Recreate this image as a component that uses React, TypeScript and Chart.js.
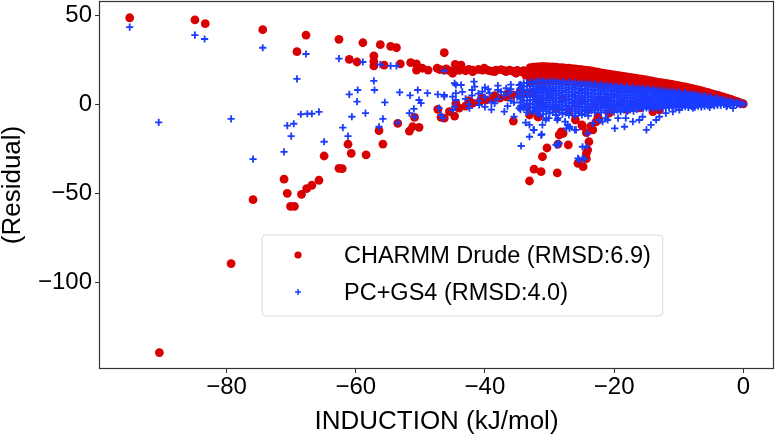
import React, { useEffect, useRef } from "react";
import { Chart, registerables } from "chart.js";

Chart.register(...registerables);

// ---------- DATA ----------
const xTicks = [-80, -60, -40, -20, 0];
const yTicks = [-100, -50, 0, 50];
const xRange = [-99.75, 4.75];
const yRange = [-148.4, 57.9];

const drudeLabel = "CHARMM Drude (RMSD:6.9)";
const gs4Label = "PC+GS4 (RMSD:4.0)";

// CHARMM Drude: isolated points
const drudeOutliers: [number, number][] = [
  [-95, 48.5], [-84.9, 47.3], [-83.3, 45.2], [-74.4, 41.8], [-67.7, 38.8], [-69.1, 29.5], [-62.6, 36.4],
  [-64.9, -29], [-62.6, -35.9], [-71.1, -42], [-65.7, -42.6], [-66.8, -45.4], [-67.6, -47.3], [-68.4, -50.5],
  [-70.6, -49.9], [-75.9, -53.5], [-70.1, -57.2], [-69.5, -57.2], [-79.3, -89.3], [-90.4, -139.2],
];
// CHARMM Drude: upper row (-62 .. -33)
const drudeUpper: [number, number][] = [
  [-58.9, 34.5], [-56.2, 33.4], [-54.6, 32.5], [-53.7, 31.7], [-46.3, 28.9], [-61, 25.2], [-59.8, 23.7],
  [-57.2, 27.1], [-57.2, 23.9], [-57.2, 21.5], [-55.6, 22], [-53.1, 22.6], [-51.5, 23.3], [-50.6, 22.6],
  [-50.6, 19.2], [-49.7, 20.2], [-48.8, 19.2], [-47.4, 20.2], [-46.3, 19.2], [-45, 18.5], [-44.6, 22.4],
  [-43.7, 22], [-41.9, 19.2], [-40.1, 20.2], [-38.3, 19.2], [-36.2, 19.2], [-34.4, 18.3], [-33.1, 16.4],
  [-45, 17.4], [-41.9, 18.3], [-40.4, 19.2], [-38.5, 18.3], [-36.7, 18.3], [-35.2, 17.4], [-33.7, 16.4],
  [-47, 19.5], [-46, 19.8], [-45.5, 18.9], [-44, 19], [-43, 18.8], [-42.5, 19.6], [-41, 19.5], [-39.5, 19],
  [-39, 18.6], [-37.5, 19.4], [-37, 18.8], [-35.7, 18.6], [-35, 19], [-34, 18.8],
];
// CHARMM Drude: scattered negatives
const drudeLower: [number, number][] = [
  [-56.4, -14.8], [-55.8, -22.3], [-61.2, -22.4], [-60.7, -27.5], [-58.4, -28.4], [-62.1, -36.1],
  [-51.7, -15], [-50.2, -12.9], [-51.2, -12.6], [-53.5, -10.7], [-50.9, -7.3], [-47.3, -2.8], [-46.8, -7.3],
  [-46.3, -7.8], [-44.7, -6.6], [-35.6, -9.4], [-33.1, -43], [-32.4, -36.4], [-31.3, -37.8], [-31.1, -29.4],
  [-30.4, -24.5], [-28.8, -38.5], [-28.7, -22.3], [-28.5, -17.2], [-28.2, -15.5], [-27.1, -22.8],
  [-25.6, -33.1], [-31.7, -7], [-24.8, -35], [-24.3, -30.5], [-24.1, -25.6], [-23.9, -21], [-24.3, -15.9],
  [-24.9, -12.2], [-23.6, -12.2], [-23.3, -14.4], [-22.8, -9.8], [-22.4, -8.8], [-27.9, -16.3],
  [-24.3, -27.5], [-26, -8.8], [-25, -11.6], [-22.5, -7], [-33.1, -6], [-31.8, -7], [-33.5, -1.3],
  [-31.6, 1.5], [-22.3, 2.4], [-21.3, -0.4], [-20.8, -5], [-14, -4.1], [-13, -3.2],
];
// CHARMM Drude: rising lower diagonal (-46 .. -31)
const drudeDiagonal: [number, number][] = [
  [-45.5, -4.1], [-44, -2.2], [-43, -1], [-41.9, 0.6], [-40.8, 1.5], [-39.8, 2.4], [-38.7, 3], [-37.7, 3.4],
  [-36.7, 4.2], [-35.7, 5.2], [-34.7, 5.8], [-33.7, 6.2], [-32.6, 7], [-31.6, 8], [-44.5, 0.5], [-42.5, 2],
  [-40.5, 3.5], [-38.5, 4.8], [-36.5, 6], [-34.5, 7.5],
];
// CHARMM Drude: dense wedge, columns of [x, ys]
const drudeBand: [number, number[]][] = [
  [-33, [20.5, 18, 15.5, 13]], [-32.5, [20.8, 18.3, 15.8, 13.3]],
  [-32, [21, 18.5, 16, 13.5]], [-31.5, [21.1, 18.6, 16.1, 13.6]],
  [-31, [21.2, 18.7, 16.2, 13.5, 10]], [-30.5, [21.1, 18.6, 16.1, 13.5]],
  [-30, [21, 18.5, 16, 13.5]], [-29.5, [20.9, 18.4, 15.9, 13.4]],
  [-29, [20.8, 18.3, 15.8, 13.3]], [-28.5, [20.6, 18.1, 15.6, 13.1]],
  [-28, [20.5, 18, 15.5, 13]], [-27.5, [20.3, 17.9, 15.4, 12.9]],
  [-27, [20.2, 17.7, 15.2, 12.8]], [-26.5, [20, 17.5, 15, 12.6]],
  [-26, [19.8, 17.3, 14.8, 12.5]], [-25.5, [19.6, 17.2, 14.7, 12.3]],
  [-25, [19.4, 17, 14.6, 12.2]], [-24.5, [19.2, 16.8, 14.4, 12.1]],
  [-24, [19, 16.6, 14.2, 12]], [-23.5, [18.7, 16.3, 14, 11.7]],
  [-23, [18.3, 16, 13.7, 11.5]], [-22.5, [18, 15.7, 13.4, 11.2]],
  [-22, [17.6, 15.4, 13.2, 11]], [-21.5, [17.3, 15.1, 13, 10.9]],
  [-21, [17, 14.9, 12.8, 10.8]], [-20.5, [16.8, 14.7, 12.6, 10.6]],
  [-20, [16.5, 14.5, 12.5, 10.5]], [-19.5, [16.2, 14.2, 12.3, 10.3]],
  [-19, [15.9, 14, 12.1, 10.2]], [-18.5, [15.6, 13.8, 11.9, 10.1]],
  [-18, [15.4, 13.6, 11.8, 10]], [-17.5, [15.1, 13.3, 11.5, 9.8]],
  [-17, [14.8, 13, 11.3, 9.6]], [-16.5, [14.5, 12.8, 11.1, 9.4]],
  [-16, [14.2, 12.5, 10.9, 9.3]], [-15.5, [13.9, 12.2, 10.7, 9.1]],
  [-15, [13.6, 12, 10.5, 9]], [-14.5, [13.3, 11.7, 10.2, 8.8]],
  [-14, [13, 11.5, 10, 8.6]], [-13.5, [12.6, 11.2, 9.7, 8.4]],
  [-13, [12.3, 10.9, 9.5, 8.2]], [-12.5, [12, 10.6, 9.3, 8]],
  [-12, [11.7, 10.4, 9.1, 7.8]], [-11.5, [11.4, 10.1, 8.9, 7.6]],
  [-11, [11.1, 9.9, 8.7, 7.5]], [-10.5, [10.7, 9.6, 8.4, 7.3]],
  [-10, [10.4, 9.3, 8.2, 7.1]], [-9.5, [10, 9, 7.9, 6.9]],
  [-9, [9.7, 8.7, 7.7, 6.7]], [-8.5, [9.3, 8.3, 7.4, 6.4]],
  [-8, [8.9, 8, 7.1, 6.2]], [-7.5, [8.5, 7.6, 6.8, 5.9]],
  [-7, [8, 7.2, 6.4, 5.6]], [-6.5, [7.6, 6.8, 6, 5.3]],
  [-6, [7.1, 6.4, 5.7, 5]], [-5.5, [6.6, 5.9, 5.2]],
  [-5, [6.1, 5.5, 4.9]], [-4.5, [5.6, 5, 4.5]],
  [-4, [5.1, 4.6, 4.1]], [-3.5, [4.6, 4.1, 3.6]],
  [-3, [4, 3.6, 3.2]], [-2.5, [3.5, 3.1, 2.7]],
  [-2, [2.9, 2.6, 2.3]], [-1.6, [2.3, 2]],
  [-1.2, [1.8, 1.6]], [-0.8, [1.3, 1.1]],
  [-0.5, [0.8]], [-0.2, [0.5]], [0, [0.2]],
];
// CHARMM Drude: points under the PC+GS4 band
const drudeUnder: [number, number][] = [
  [-30, 5], [-28, 3], [-26, 0], [-29, -2], [-27, -4], [-25, 2], [-23, 0], [-21, 3], [-19, 1], [-17, 0],
  [-15, 2], [-12, 1], [-9, 1], [-6, 1], [-32, 3], [-31, -1], [-24, -3], [-20, -2], [-18, -3], [-16, -2],
];

// PC+GS4: isolated points
const gs4Outliers: [number, number][] = [
  [-95, 43.2], [-84.9, 38.8], [-83.4, 36.6], [-74.4, 31.7], [-67.7, 28.2], [-69.1, 14.2], [-62.6, 25.6],
  [-90.5, -10.1], [-79.3, -8.2], [-75.9, -30.8], [-71.1, -26.7], [-70.6, -12], [-69.6, -10.9], [-70, -17.9],
  [-68.5, -5.6], [-67.5, -5.3], [-66.8, -5.3], [-65.7, -4.3], [-64.9, -21],
];
// PC+GS4: scattered middle (-62 .. -33)
const gs4Middle: [number, number][] = [
  [-58.9, 23.7], [-56.2, 22.3], [-54.6, 21.5], [-53.7, 21.5], [-46.3, 18.7], [-57.2, 13.1], [-57.1, 8],
  [-59.7, 8], [-61, 5.6], [-59.8, 1.5], [-60.6, -7], [-58.5, -5], [-55.8, -8.2], [-56.4, -12.6], [-62, -13.1],
  [-61.2, -17.8], [-55.5, 1.1], [-53.2, 6.7], [-51.6, 5], [-50.4, 8], [-48.9, 6.2], [-50.2, 2.4], [-49.9, 0.6],
  [-51, -2.6], [-51.7, -5], [-50.9, -7], [-53.5, -10.3], [-47.3, 5.6], [-46.3, 4.3], [-47.1, -2.2], [-46.8, -6],
  [-45, 4.3], [-44.5, 2.4], [-44.7, -1.3], [-44.5, 10.8], [-43.7, 10.8], [-41.7, 12.7], [-44.7, 11.8],
  [-41.6, 9.9], [-46.3, 5.2], [-44.5, 6.2], [-40.4, 7.1], [-39.3, 6.2], [-38, 8], [-36.7, 9], [-34.7, 10.8],
  [-36.2, 6.2], [-46.5, -7.8], [-45, -3.2], [-42.4, -2.2], [-40.9, -0.4], [-37, -4.1], [-35.5, -6.9],
  [-34.7, -2.2], [-33.7, -1.3], [-43, 3], [-42, 5], [-41, 2], [-40, 4], [-39, 1], [-38, 3], [-37, 5],
  [-36, 2], [-35, 4], [-42, 8], [-40, 9.5], [-38, 10.5], [-36, 11],
  [-43.5, 7], [-41, 6], [-39.5, 8.5], [-37.5, 7], [-36, 8.5], [-35, 7], [-42.5, 0], [-40, -1.5],
  [-38.5, 0.5], [-36.5, -1], [-35.5, 1], [-39, -3],
];
// PC+GS4: lower tail (-35 .. 0)
const gs4Lower: [number, number][] = [
  [-32.2, -3.2], [-30.6, -8.8], [-30.1, -7.8], [-28.8, -8.8], [-31.1, -11.6], [-33.1, -11.6], [-32.4, -14.4],
  [-33.1, -18.2], [-31.3, -17.3], [-34.4, -23.4], [-29, -22.8], [-27.4, -13.5], [-27.2, -11.6],
  [-25.6, -30.3], [-24.9, -30.3], [-24.3, -23.8], [-24.1, -16.3], [-23.3, -10.7], [-22.3, -8.8],
  [-21.3, -7.8], [-33.7, -10.3], [-32.5, -14.4], [-31.2, -16.8], [-28.8, -22.8], [-30.5, -7.8],
  [-28.7, -7.8], [-26.9, -12.6], [-25.9, -14.4], [-27.6, -9.7], [-26.9, -13.5], [-26.1, -14.4],
  [-24.9, -23.8], [-25.4, -31.2], [-24.6, -30.8], [-28.5, -21.9], [-21.8, -9.7], [-21, -8.8],
  [-19.9, -13.5], [-19.4, -7.8], [-18.4, -12.6], [-18.2, -7.8], [-17.1, -9.7], [-16.1, -8.8], [-15.6, -7],
  [-15, -14.4], [-14.3, -11.6], [-13.5, -8.8], [-13, -7], [-12, -5], [-10.9, -4.1], [-9.9, -3.2],
  [-7.8, -2.2], [-5.2, -1.7], [-2.6, -1.3], [-1.6, -2.2],
];
// PC+GS4: dense band, columns of [x, ys]
const gs4Band: [number, number[]][] = [
  [-34.5, [11, 9, 7, 5, 3, 1, -1, -3]],
  [-34, [12, 10, 8, 6, 4, 2, 0, -2]],
  [-33.5, [12, 10, 8, 6, 4, 2, 0, -2, -4.5]],
  [-33, [12.5, 10.5, 8.5, 6.5, 4.5, 2.5, 0.5, -1.5, -4]],
  [-32.5, [12.5, 10, 8, 6, 4, 2, 0, -2, -4]],
  [-32, [13, 11, 9, 7, 5, 3, 1, -1, -3, -5]],
  [-31.5, [12.8, 10, 8, 6, 4, 2, 0, -2, -4, -6]],
  [-31, [13.2, 11, 9, 7, 5, 3, 1, -1, -3, -5.5]],
  [-30.5, [12.5, 10, 8, 6, 4, 2, 0, -2, -4]],
  [-30, [13, 11, 9, 7, 5, 3, 1, -1, -3, -5]],
  [-29.5, [12.5, 10, 8, 6, 4, 2, 0, -2, -4.5]],
  [-29, [13, 11, 9, 7, 5, 3, 1, -1, -3, -6]],
  [-28.5, [12.2, 9.8, 7.8, 5.8, 3.8, 1.8, -0.2, -2.2, -4.5]],
  [-28, [12.8, 10.8, 8.8, 6.8, 4.8, 2.8, 0.8, -1.2, -3.2, -5.5]],
  [-27.5, [12, 9.5, 7.5, 5.5, 3.5, 1.5, -0.5, -2.5, -4.8]],
  [-27, [12.5, 10.5, 8.5, 6.5, 4.5, 2.5, 0.5, -1.5, -3.5, -6]],
  [-26.5, [11.7, 9.2, 7.2, 5.2, 3.2, 1.2, -0.8, -3, -5.2]],
  [-26, [12.2, 10.2, 8.2, 6.2, 4.2, 2.2, 0.2, -1.8, -4, -6.5]],
  [-25.5, [11.5, 9, 7, 5, 3, 1, -1, -3, -5]],
  [-25, [12, 10, 8, 6, 4, 2, 0, -2, -4, -6]],
  [-24.5, [11.2, 8.8, 6.8, 4.8, 2.8, 0.8, -1.2, -3.2, -5.3]],
  [-24, [11.7, 9.8, 7.8, 5.8, 3.8, 1.8, -0.2, -2.2, -4.2, -6.5]],
  [-23.5, [11, 8.5, 6.5, 4.5, 2.5, 0.5, -1.5, -3.5]],
  [-23, [11.4, 9.5, 7.5, 5.5, 3.5, 1.5, -0.5, -2.5, -4.5]],
  [-22.5, [10.6, 8.2, 6.3, 4.4, 2.5, 0.6, -1.3, -3.3]],
  [-22, [11, 9.2, 7.3, 5.4, 3.5, 1.6, -0.3, -2.2, -4.5]],
  [-21.5, [10.3, 8.1, 6.2, 4.3, 2.4, 0.5, -1.4, -3.4]],
  [-21, [10.7, 9, 7.2, 5.3, 3.4, 1.5, -0.4, -2.3, -4.5]],
  [-20.5, [10, 7.8, 6.1, 4.2, 2.3, 0.4, -1.5, -3.4]],
  [-20, [10.4, 8.7, 7, 5.2, 3.3, 1.4, -0.5, -2.4, -4.4]],
  [-19.5, [9.7, 7.6, 5.9, 4.1, 2.2, 0.3, -1.5, -3.3]],
  [-19, [10.1, 8.5, 6.8, 5, 3.2, 1.3, -0.6, -2.4, -4.2]],
  [-18.5, [9.4, 7.4, 5.7, 4, 2.2, 0.4, -1.4, -3.1]],
  [-18, [9.8, 8.2, 6.6, 4.9, 3.1, 1.3, -0.5, -2.2, -4]],
  [-17.5, [9.1, 7.2, 5.5, 3.8, 2.1, 0.3, -1.3, -3]],
  [-17, [9.5, 8, 6.4, 4.7, 3, 1.2, -0.5, -2.1, -3.8]],
  [-16.5, [8.8, 6.9, 5.4, 3.7, 2, 0.4, -1.2, -2.8]],
  [-16, [9.2, 7.7, 6.2, 4.6, 2.9, 1.2, -0.4, -2]],
  [-15.5, [8.5, 6.7, 5.2, 3.6, 1.9, 0.3, -1.3, -2.6]],
  [-15, [8.9, 7.5, 6, 4.4, 2.8, 1.1, -0.5, -2]],
  [-14.5, [8.2, 6.4, 4.9, 3.4, 1.9, 0.3, -1.2, -2.5]],
  [-14, [8.5, 7.1, 5.7, 4.2, 2.7, 1.1, -0.4, -1.9]],
  [-13.5, [7.8, 6.1, 4.7, 3.3, 1.8, 0.4, -1.1, -2.4]],
  [-13, [8.1, 6.8, 5.4, 4, 2.6, 1.1, -0.3, -1.8]],
  [-12.5, [7.4, 5.8, 4.5, 3.1, 1.7, 0.3, -1, -2.2]],
  [-12, [7.7, 6.5, 5.2, 3.8, 2.4, 1, -0.3, -1.6]],
  [-11.5, [7, 5.5, 4.2, 2.9, 1.6, 0.3, -0.9, -2]],
  [-11, [7.3, 6.1, 4.9, 3.6, 2.3, 1, -0.3, -1.5]],
  [-10.5, [6.6, 5.2, 4, 2.8, 1.5, 0.3, -0.9, -1.9]],
  [-10, [6.9, 5.8, 4.6, 3.4, 2.2, 0.9, -0.3, -1.4]],
  [-9.5, [6.2, 4.9, 3.8, 2.6, 1.4, 0.2, -0.8, -1.8]],
  [-9, [6.4, 5.4, 4.3, 3.2, 2, 0.8, -0.3, -1.3]],
  [-8.5, [5.7, 4.5, 3.5, 2.4, 1.3, 0.2, -0.8, -1.7]],
  [-8, [5.9, 5, 4, 3, 1.9, 0.8, -0.3, -1.2]],
  [-7.5, [5.2, 4.1, 3.2, 2.2, 1.2, 0.2, -0.7, -1.6]],
  [-7, [5.4, 4.6, 3.7, 2.7, 1.7, 0.7, -0.3, -1.1]],
  [-6.5, [4.6, 3.7, 2.9, 2, 1, 0.1, -0.7, -1.5]],
  [-6, [4.8, 4.1, 3.3, 2.4, 1.5, 0.6, -0.3, -1]],
  [-5.5, [4, 3.2, 2.4, 1.6, 0.8, 0, -0.8]],
  [-5, [4.2, 3.5, 2.8, 2, 1.2, 0.4, -0.4]],
  [-4.5, [3.3, 2.6, 2, 1.3, 0.6, -0.1, -0.9]],
  [-4, [3.5, 2.9, 2.3, 1.6, 0.9, 0.2, -0.5]],
  [-3.5, [2.6, 2, 1.4, 0.8, 0.2, -0.5]],
  [-3, [2.7, 2.2, 1.7, 1.1, 0.5, -0.1]],
  [-2.5, [1.8, 1.3, 0.9, 0.4, -0.1, -0.6]],
  [-2, [1.9, 1.5, 1.1, 0.6, 0.1, -0.4]],
  [-1.5, [1.2, 0.8, 0.4, -0.1]],
  [-1, [1.1, 0.8, 0.4, 0]],
  [-0.5, [0.6, 0.2, -0.2]],
  [0, [0.3, 0]],
];

// ---------- STYLE ----------
const RED = "#d80000";
const BLUE = "#1a3cff";
const FONT = '"Liberation Sans", Arial, Helvetica, sans-serif';

const toPts = (arr: [number, number][]) => arr.map(([x, y]) => ({ x, y }));
const fromCols = (cols: [number, number[]][]) =>
  cols.flatMap(([x, ys]) => ys.map((y) => ({ x, y })));

const fmt = (v: number) => (v < 0 ? "\u2212" + Math.abs(v) : String(v));

const framePlugin = {
  id: "frameAndLegend",
  afterDatasetsDraw(chart: any) {
    const { ctx, chartArea: a } = chart;
    ctx.save();
    ctx.strokeStyle = "#333333";
    ctx.lineWidth = 1.2;
    ctx.strokeRect(Math.round(a.left) + 0.5, Math.round(a.top) + 0.5, Math.round(a.right - a.left) - 1, Math.round(a.bottom - a.top) - 1);
    ctx.restore();
  },
  afterDraw(chart: any) {
    const { ctx, chartArea: a } = chart;
    ctx.save();
    const fontSize = 23.5;
    ctx.font = `${fontSize}px ${FONT}`;
    const labels = [drudeLabel, gs4Label];
    const w = Math.max(...labels.map((l) => ctx.measureText(l).width));
    const bx = a.left + 163;
    const by = a.top + 234;
    const textX = bx + 82;
    const bw = 82 + w + 12;
    const bh = 81;
    const r = 4;
    ctx.beginPath();
    ctx.moveTo(bx + r, by);
    ctx.lineTo(bx + bw - r, by);
    ctx.quadraticCurveTo(bx + bw, by, bx + bw, by + r);
    ctx.lineTo(bx + bw, by + bh - r);
    ctx.quadraticCurveTo(bx + bw, by + bh, bx + bw - r, by + bh);
    ctx.lineTo(bx + r, by + bh);
    ctx.quadraticCurveTo(bx, by + bh, bx, by + bh - r);
    ctx.lineTo(bx, by + r);
    ctx.quadraticCurveTo(bx, by, bx + r, by);
    ctx.closePath();
    ctx.fillStyle = "rgba(255,255,255,0.8)";
    ctx.fill();
    ctx.strokeStyle = "#d9d9d9";
    ctx.lineWidth = 1;
    ctx.stroke();

    const mx = bx + 36;
    const y1 = by + 20;
    const y2 = by + 57;
    ctx.fillStyle = RED;
    ctx.beginPath();
    ctx.arc(mx, y1, 3.6, 0, Math.PI * 2);
    ctx.fill();
    ctx.strokeStyle = BLUE;
    ctx.lineWidth = 1.5;
    ctx.beginPath();
    ctx.moveTo(mx - 3, y2);
    ctx.lineTo(mx + 3, y2);
    ctx.moveTo(mx, y2 - 3);
    ctx.lineTo(mx, y2 + 3);
    ctx.stroke();

    ctx.fillStyle = "#000";
    ctx.textBaseline = "alphabetic";
    ctx.textAlign = "left";
    ctx.fillText(drudeLabel, textX, y1 + 8.3);
    ctx.fillText(gs4Label, textX, y2 + 8.3);
    ctx.restore();
  },
};

export default function App() {
  const ref = useRef<HTMLCanvasElement | null>(null);
  useEffect(() => {
    document.body.style.margin = "0";
    const canvas = ref.current;
    if (!canvas) return;
    const chart = new Chart(canvas, {
      type: "scatter",
      data: {
        datasets: [
          {
            label: drudeLabel,
            data: [
              ...toPts(drudeOutliers),
              ...toPts(drudeUpper),
              ...toPts(drudeLower),
              ...toPts(drudeDiagonal),
              ...fromCols(drudeBand),
              ...toPts(drudeUnder),
            ],
            pointStyle: "circle",
            pointRadius: 4.4,
            pointHoverRadius: 4.4,
            backgroundColor: RED,
            borderColor: RED,
            borderWidth: 0,
            order: 2,
          },
          {
            label: gs4Label,
            data: [
              ...toPts(gs4Outliers),
              ...toPts(gs4Middle),
              ...toPts(gs4Lower),
              ...fromCols(gs4Band),
            ],
            pointStyle: "cross",
            pointRadius: 3.6,
            pointHoverRadius: 3.6,
            backgroundColor: BLUE,
            borderColor: BLUE,
            borderWidth: 1.8,
            order: 1,
          },
        ],
      },
      options: {
        animation: false,
        responsive: false,
        devicePixelRatio: 1,
        layout: { autoPadding: false, padding: { left: 0, top: 1, right: 2, bottom: 0 } },
        plugins: { legend: { display: false }, tooltip: { enabled: false } },
        events: [],
        scales: {
          x: {
            type: "linear",
            min: xRange[0],
            max: xRange[1],
            afterBuildTicks: (s: any) => {
              s.ticks = xTicks.map((v) => ({ value: v }));
            },
            afterFit: (s: any) => {
              s.height = 66;
              s.paddingLeft = 0;
              s.paddingRight = 0;
            },
            ticks: {
              autoSkip: false,
              maxRotation: 0,
              padding: 0,
              color: "#000",
              font: { family: FONT, size: 24 },
              callback: (v: any) => fmt(Number(v)),
            },
            grid: { display: true, drawOnChartArea: false, drawTicks: true, tickLength: 4, color: "#333" },
            border: { display: false },
            title: {
              display: true,
              text: "INDUCTION (kJ/mol)",
              color: "#000",
              font: { family: FONT, size: 26, lineHeight: 1 },
              padding: { top: 1, bottom: 0 },
            },
          },
          y: {
            type: "linear",
            min: yRange[0],
            max: yRange[1],
            afterBuildTicks: (s: any) => {
              s.ticks = yTicks.map((v) => ({ value: v }));
            },
            afterFit: (s: any) => {
              s.width = 99;
              s.paddingTop = 0;
              s.paddingBottom = 0;
            },
            ticks: {
              autoSkip: false,
              padding: 3,
              color: "#000",
              font: { family: FONT, size: 24 },
              callback: (v: any) => fmt(Number(v)),
            },
            grid: { display: true, drawOnChartArea: false, drawTicks: true, tickLength: 4, color: "#333" },
            border: { display: false },
            title: {
              display: true,
              text: "(Residual)",
              color: "#000",
              font: { family: FONT, size: 26, lineHeight: 1 },
              padding: { top: 0, bottom: 0 },
            },
          },
        },
      },
      plugins: [framePlugin],
    } as any);
    return () => chart.destroy();
  }, []);
  return (
    <div style={{ position: "absolute", left: 0, top: 0, width: 776, height: 435 }}>
      <canvas ref={ref} width={776} height={435} style={{ width: 776, height: 435, display: "block" }} />
    </div>
  );
}
